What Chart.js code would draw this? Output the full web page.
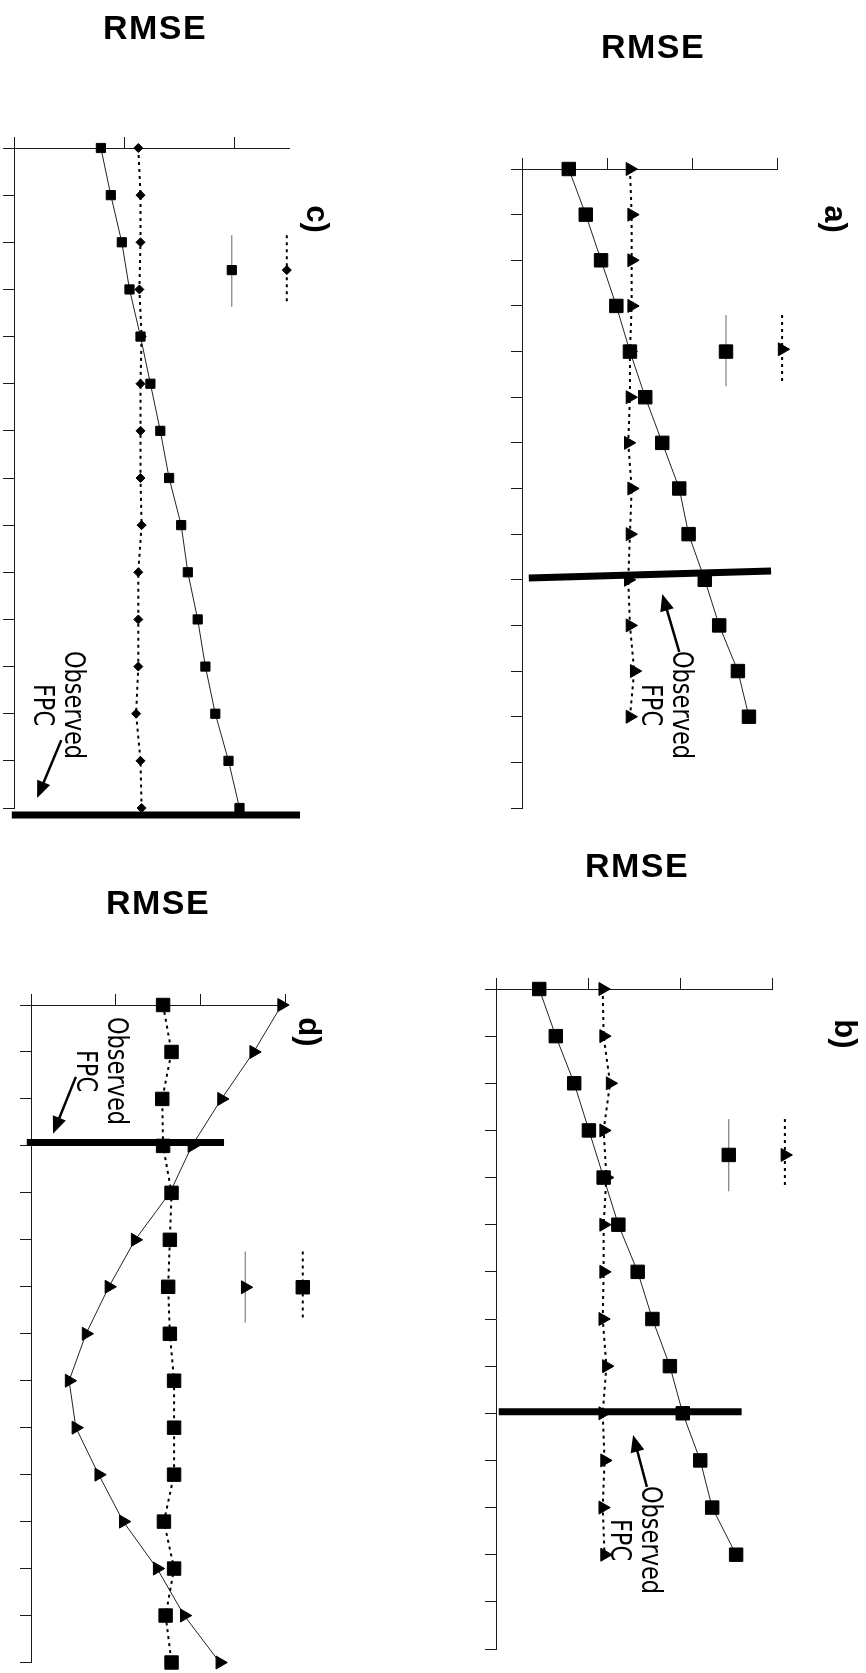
<!DOCTYPE html>
<html lang="en">
<head>
<meta charset="utf-8">
<title>RMSE</title>
<script src="https://cdn.jsdelivr.net/npm/chart.js@4/dist/chart.umd.min.js"></script>
<style>
  body { margin: 0; background: #fff; }
  #pagina { position: relative; width: 866px; height: 1673px; overflow: hidden; }
  #pagina canvas { position: absolute; left: 0; top: 0; }
  .titulo {
    position: absolute; transform: translateX(-50%);
    font: bold 34px "Liberation Sans", Arial, sans-serif;
    letter-spacing: 1.5px; line-height: 34px; white-space: nowrap; color: #000;
  }
  .letra {
    position: absolute; transform: translate(-50%, -50%);
    writing-mode: vertical-rl;
    font: bold 31px "Liberation Sans", Arial, sans-serif;
    line-height: 1; color: #000;
  }
  .nota {
    position: absolute; transform: translate(-50%, -50%) scaleX(1.15);
    writing-mode: vertical-rl; text-align: center;
    font: 25px "DejaVu Sans Condensed", "DejaVu Sans", sans-serif;
    line-height: 27px; white-space: nowrap; color: #000;
  }
</style>
</head>
<body>
<div id="pagina">
  <canvas id="panel-a" width="866" height="1673"></canvas>
  <canvas id="panel-b" width="866" height="1673"></canvas>
  <canvas id="panel-c" width="866" height="1673"></canvas>
  <canvas id="panel-d" width="866" height="1673"></canvas>

  <div class="titulo" style="left:653px; top:29px">RMSE</div>
  <div class="titulo" style="left:637px; top:848px">RMSE</div>
  <div class="titulo" style="left:155px; top:10px">RMSE</div>
  <div class="titulo" style="left:158px; top:885px">RMSE</div>

  <div class="letra" style="left:835px; top:219px">a)</div>
  <div class="letra" style="left:845px; top:1034px">b)</div>
  <div class="letra" style="left:317px; top:219px">c)</div>
  <div class="letra" style="left:309px; top:1032px">d)</div>

  <div class="nota" style="left:667px; top:705px">Observed<br>FPC</div>
  <div class="nota" style="left:636px; top:1540px">Observed<br>FPC</div>
  <div class="nota" style="left:59px; top:705px">Observed<br>FPC</div>
  <div class="nota" style="left:102px; top:1071px">Observed<br>FPC</div>
</div>

<script>
/* ──────────────────────────────────────────────
   RMSE – cuatro paneles (a, b, c, d), girados
   ────────────────────────────────────────────── */

const CATEGORIAS = ["1", "2", "3", "4", "5", "6", "7", "8", "9", "10", "11", "12", "13", "14", "15"];

// Panel a
const A_CUADRADOS  = [0.55, 0.75, 0.93, 1.11, 1.27, 1.45, 1.65, 1.85, 1.96, 2.15, 2.32, 2.54, 2.67];
const A_TRIANGULOS = [1.27, 1.29, 1.29, 1.29, 1.27, 1.27, 1.25, 1.29, 1.27, 1.25, 1.27, 1.32, 1.27];

// Panel b
const B_CUADRADOS  = [0.47, 0.65, 0.85, 1.01, 1.17, 1.33, 1.54, 1.70, 1.89, 2.03, 2.22, 2.35, 2.61];
const B_TRIANGULOS = [1.16, 1.17, 1.24, 1.17, 1.20, 1.17, 1.17, 1.16, 1.20, 1.16, 1.18, 1.16, 1.18];

// Panel c
const C_CUADRADOS = [0.79, 0.88, 0.98, 1.05, 1.15, 1.24, 1.33, 1.41, 1.52, 1.58, 1.67, 1.74, 1.83, 1.95, 2.05];
const C_ROMBOS    = [1.13, 1.15, 1.15, 1.14, 1.16, 1.15, 1.15, 1.15, 1.16, 1.13, 1.13, 1.13, 1.11, 1.15, 1.16];

// Panel d
const D_CUADRADOS  = [1.56, 1.66, 1.55, 1.56, 1.66, 1.64, 1.62, 1.64, 1.69, 1.69, 1.69, 1.57, 1.69, 1.59, 1.66];
const D_TRIANGULOS = [2.96, 2.63, 2.25, 1.90, 1.64, 1.23, 0.92, 0.65, 0.45, 0.53, 0.80, 1.09, 1.49, 1.81, 2.23];

// Máximo del eje de valores por panel
const EJE_MAX = { a: 3, b: 3, c: 2.5, d: 3 };

// ── ESTILOS ───────────────────────────────────

const W = 866, H = 1673, TICK = 11;
const COLOR_EJE = "#1a1a1a";

const CONTINUA = { borderColor: "#222", borderWidth: 1, borderDash: [] };
const PUNTEADA = { borderColor: "#000", borderWidth: 2, borderDash: [3, 4] };

function serie(datos, linea, forma, radio, giro) {
  return {
    data: datos,
    ...linea,
    pointStyle: forma,
    pointRadius: radio,
    pointHoverRadius: radio,
    pointRotation: giro || 0,
    pointBackgroundColor: "#000",
    pointBorderColor: "#000",
    pointBorderWidth: 1,
    fill: false,
    tension: 0,
    clip: false,
  };
}

// ── PANELES ───────────────────────────────────

const PANELES = [
  {
    id: "panel-a", max: EJE_MAX.a,
    area: { left: 522, top: 169, right: 777, bottom: 808 },
    series: [
      serie(A_CUADRADOS, CONTINUA, "rect", 9.5),
      serie(A_TRIANGULOS, PUNTEADA, "triangle", 7.5, 90),
    ],
    notas: {
      fpc:    { x0: 0.08, y0: 8.96, x1: 2.93, y1: 8.81 },
      flecha: { x0: 1.85, y0: 10.58, x1: 1.65, y1: 9.31 },
      leyenda: [
        { serie: 0, x: 2.40, y: 4.00, y0: 3.20, y1: 4.76 },
        { serie: 1, x: 3.06, y: 3.95, y0: 3.20, y1: 4.68 },
      ],
    },
  },
  {
    id: "panel-b", max: EJE_MAX.b,
    area: { left: 496, top: 989, right: 772, bottom: 1649 },
    series: [
      serie(B_CUADRADOS, CONTINUA, "rect", 9.5),
      serie(B_TRIANGULOS, PUNTEADA, "triangle", 7.5, 90),
    ],
    notas: {
      fpc:    { x0: 0.03, y0: 8.97, x1: 2.67, y1: 8.97 },
      flecha: { x0: 1.64, y0: 10.56, x1: 1.49, y1: 9.46 },
      leyenda: [
        { serie: 0, x: 2.53, y: 3.52, y0: 2.76, y1: 4.29 },
        { serie: 1, x: 3.14, y: 3.52, y0: 2.76, y1: 4.20 },
      ],
    },
  },
  {
    id: "panel-c", max: EJE_MAX.c,
    area: { left: 14, top: 148, right: 289, bottom: 808 },
    series: [
      serie(C_CUADRADOS, CONTINUA, "rect", 6.5),
      serie(C_ROMBOS, PUNTEADA, "rectRot", 4.5),
    ],
    notas: {
      fpc:    { x0: -0.02, y0: 14.15, x1: 2.60, y1: 14.15 },
      flecha: { x0: 0.43, y0: 12.56, x1: 0.21, y1: 13.79 },
      leyenda: [
        { serie: 0, x: 1.98, y: 2.59, y0: 1.85, y1: 3.37 },
        { serie: 1, x: 2.48, y: 2.59, y0: 1.85, y1: 3.28 },
      ],
    },
  },
  {
    id: "panel-d", max: EJE_MAX.d,
    area: { left: 31, top: 1005, right: 285, bottom: 1664 },
    series: [
      serie(D_CUADRADOS, PUNTEADA, "rect", 9.5),
      serie(D_TRIANGULOS, CONTINUA, "triangle", 7.5, 90),
    ],
    notas: {
      fpc:    { x0: -0.05, y0: 2.93, x1: 2.28, y1: 2.93 },
      flecha: { x0: 0.53, y0: 1.53, x1: 0.26, y1: 2.74 },
      leyenda: [
        { serie: 1, x: 2.53, y: 6.01, y0: 5.25, y1: 6.76 },
        { serie: 0, x: 3.21, y: 6.01, y0: 5.25, y1: 6.70 },
      ],
    },
  },
];

// ── ANOTACIONES (línea FPC, flecha, leyenda) ──

function dibujarPunto(ctx, ds, x, y) {
  const opts = {
    pointStyle: ds.pointStyle,
    radius: ds.pointRadius,
    rotation: ds.pointRotation,
    borderWidth: ds.pointBorderWidth,
  };
  ctx.fillStyle = ds.pointBackgroundColor;
  ctx.strokeStyle = ds.pointBorderColor;
  ctx.lineWidth = ds.pointBorderWidth;
  Chart.helpers.drawPoint(ctx, opts, x, y);
}

const notas = {
  id: "notas",
  afterDraw(chart, args, o) {
    const { ctx } = chart;
    const { x, y } = chart.scales;
    const px = v => x.getPixelForValue(v);
    const py = v => y.getPixelForValue(v);

    ctx.save();
    ctx.fillStyle = "#000";
    ctx.strokeStyle = "#000";

    // Línea gruesa de la FPC observada
    const f = o.fpc;
    ctx.lineWidth = 7;
    ctx.beginPath();
    ctx.moveTo(px(f.x0), py(f.y0));
    ctx.lineTo(px(f.x1), py(f.y1));
    ctx.stroke();

    // Flecha
    const fl = o.flecha;
    const x0 = px(fl.x0), y0 = py(fl.y0), x1 = px(fl.x1), y1 = py(fl.y1);
    const ang = Math.atan2(y1 - y0, x1 - x0);
    const largo = 17, ancho = 7;
    const bx = x1 - largo * Math.cos(ang), by = y1 - largo * Math.sin(ang);
    ctx.lineWidth = 2.5;
    ctx.beginPath();
    ctx.moveTo(x0, y0);
    ctx.lineTo(bx + 2 * Math.cos(ang), by + 2 * Math.sin(ang));
    ctx.stroke();
    ctx.beginPath();
    ctx.moveTo(x1, y1);
    ctx.lineTo(bx + ancho * Math.sin(ang), by - ancho * Math.cos(ang));
    ctx.lineTo(bx - ancho * Math.sin(ang), by + ancho * Math.cos(ang));
    ctx.closePath();
    ctx.fill();

    // Leyenda (sin texto)
    o.leyenda.forEach(l => {
      const ds = chart.data.datasets[l.serie];
      ctx.save();
      ctx.strokeStyle = ds.borderDash.length ? ds.borderColor : "#666";
      ctx.lineWidth = ds.borderWidth;
      ctx.setLineDash(ds.borderDash);
      ctx.beginPath();
      ctx.moveTo(px(l.x), py(l.y0));
      ctx.lineTo(px(l.x), py(l.y1));
      ctx.stroke();
      ctx.setLineDash([]);
      dibujarPunto(ctx, ds, px(l.x), py(l.y));
      ctx.restore();
    });

    ctx.restore();
  }
};

// ── INIT ──────────────────────────────────────

function crearPanel(p) {
  const ctx = document.getElementById(p.id).getContext("2d");
  return new Chart(ctx, {
    type: "line",
    data: { labels: CATEGORIAS, datasets: p.series },
    options: {
      indexAxis: "y",
      responsive: false,
      animation: false,
      events: [],
      layout: {
        padding: {
          left: p.area.left - TICK,
          top: p.area.top - TICK,
          right: W - p.area.right,
          bottom: H - p.area.bottom,
        },
      },
      plugins: {
        legend: { display: false },
        tooltip: { enabled: false },
        notas: p.notas,
      },
      scales: {
        x: {
          type: "linear",
          position: "top",
          min: 0,
          max: p.max,
          ticks: { display: false, stepSize: 1, includeBounds: false },
          grid: { drawOnChartArea: false, drawTicks: true, tickLength: TICK, color: COLOR_EJE },
          border: { display: true, color: COLOR_EJE, width: 1 },
        },
        y: {
          type: "category",
          position: "left",
          offset: false,
          ticks: { display: false },
          grid: { drawOnChartArea: false, drawTicks: true, tickLength: TICK, color: COLOR_EJE, offset: false },
          border: { display: true, color: COLOR_EJE, width: 1 },
        },
      },
    },
    plugins: [notas],
  });
}

PANELES.forEach(crearPanel);
</script>
</body>
</html>
